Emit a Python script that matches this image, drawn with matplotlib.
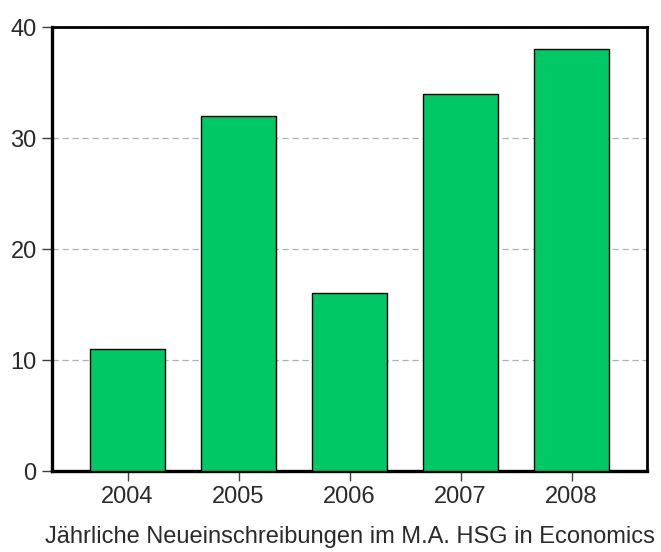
import matplotlib.pyplot as plt

plt.rcParams['font.family'] = ['Liberation Sans', 'DejaVu Sans']

years = ['2004', '2005', '2006', '2007', '2008']
enrollments = [11, 32, 16, 34, 38]
yticks = [0, 10, 20, 30, 40]

fig = plt.figure(figsize=(6.61, 5.52), dpi=100)
ax = fig.add_axes([0.0787, 0.1467, 0.9003, 0.8043])

x = range(len(years))
ax.bar(x, enrollments, width=0.67, color='#00C864', edgecolor='black',
       linewidth=1.0, zorder=3)

ax.set_xlim(-0.68, 4.68)
ax.set_ylim(0, 40)
ax.set_xticks(list(x))
ax.set_xticklabels(years)
ax.set_yticks(yticks)
ax.yaxis.grid(True, linestyle=(0, (5, 3)), color='#b0b0b0', linewidth=0.9, zorder=0)

for side in ['left', 'bottom']:
    ax.spines[side].set_linewidth(2.4)
for side in ['top', 'right']:
    ax.spines[side].set_linewidth(2.0)

ax.tick_params(axis='both', labelsize=17, color='#404040', length=7, width=1,
               labelcolor='#2a2a2a')
ax.tick_params(axis='y', pad=4)
ax.tick_params(axis='x', pad=4)

ax.set_xlabel('Jährliche Neueinschreibungen im M.A. HSG in Economics',
              fontsize=17, labelpad=13, color='#2a2a2a')

fig.savefig('out.png', dpi=100)
